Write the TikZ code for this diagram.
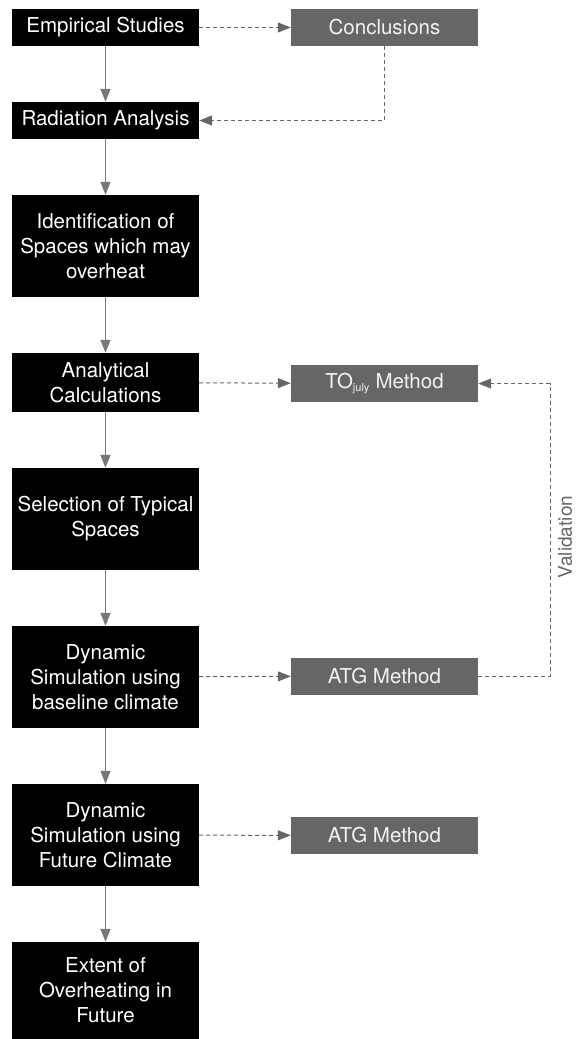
\documentclass[tikz,border=0pt]{standalone}
\usepackage{fontspec}
\setmainfont{TeX Gyre Heros}
\usetikzlibrary{arrows.meta}

\definecolor{stepgray}{HTML}{666666}
\definecolor{linegray}{HTML}{777777}
\definecolor{textgray}{HTML}{F2F2F2}

\begin{document}
\begin{tikzpicture}[x=1pt, y=-1pt,
    stage/.style ={rectangle, fill=black, text=white, align=center, inner sep=0pt,
                   minimum width=187pt, font=\fontsize{20.5}{25}\selectfont},
    result/.style ={rectangle, fill=stepgray, text=textgray, align=center, inner sep=0pt,
                   minimum width=187pt, minimum height=37pt, font=\fontsize{20.5}{25}\selectfont},
    flow/.style ={draw=linegray, line width=1.5pt, -{Triangle[length=13pt, width=10pt]}},
    dashflow/.style ={draw=stepgray, line width=1pt, dash pattern=on 4pt off 3pt,
                   -{Triangle[length=13pt, width=10pt]}}]
   \useasboundingbox (0,0) rectangle (578,1039);

   \node[stage, minimum height=37pt]  (emp)     at (105.5,27.5)  {Empirical Studies};
   \node[stage, minimum height=37pt]  (rad)     at (105.5,120.5) {Radiation Analysis};
   \node[stage, minimum height=102pt] (ident)   at (105.5,246)   {Identification of\\Spaces which may\\overheat};
   \node[stage, minimum height=59pt]  (anal)    at (105.5,382.5) {Analytical\\Calculations};
   \node[stage, minimum height=102pt] (sel)     at (105.5,519)   {Selection of Typical\\Spaces};
   \node[stage, minimum height=102pt] (dynbase) at (105.5,677)   {Dynamic\\Simulation using\\baseline climate};
   \node[stage, minimum height=102pt] (dynfut)  at (105.5,835)   {Dynamic\\Simulation using\\Future Climate};
   \node[stage, minimum height=97pt]  (extent)  at (105.5,990.5) {Extent of\\Overheating in\\Future};

   \node[result] (concl)  at (384.5,27.5)  {Conclusions};
   \node[result] (tojuly) at (384.5,383.5) {TO\textsubscript{\fontsize{11}{11}\selectfont july} Method};
   \node[result] (atgA)   at (384.5,676)   {ATG Method};
   \node[result] (atgB)   at (384.5,835.5) {ATG Method};

   \coordinate (valx) at (550,0);
   \node[rotate=90, inner sep=0pt, text=stepgray, font=\fontsize{19}{25}\selectfont] (valtext) at (565,537) {Validation};

   \draw[flow] (emp) to (rad);
   \draw[flow] (rad) to (ident);
   \draw[flow] (ident) to (anal);
   \draw[flow] (anal) to (sel);
   \draw[flow] (sel) to (dynbase);
   \draw[flow] (dynbase) to (dynfut);
   \draw[flow] (dynfut) to (extent);

   \draw[dashflow] (emp) to (concl);
   \draw[dashflow] (concl.south) |- (rad.east);
   \draw[dashflow] (anal) to (tojuly);
   \draw[dashflow] (dynbase) to (atgA);
   \draw[dashflow] (dynfut) to (atgB);
   \draw[dashflow] (atgA.east) -- (atgA.east -| valx) |- (tojuly.east);
 \end{tikzpicture}
\end{document}
